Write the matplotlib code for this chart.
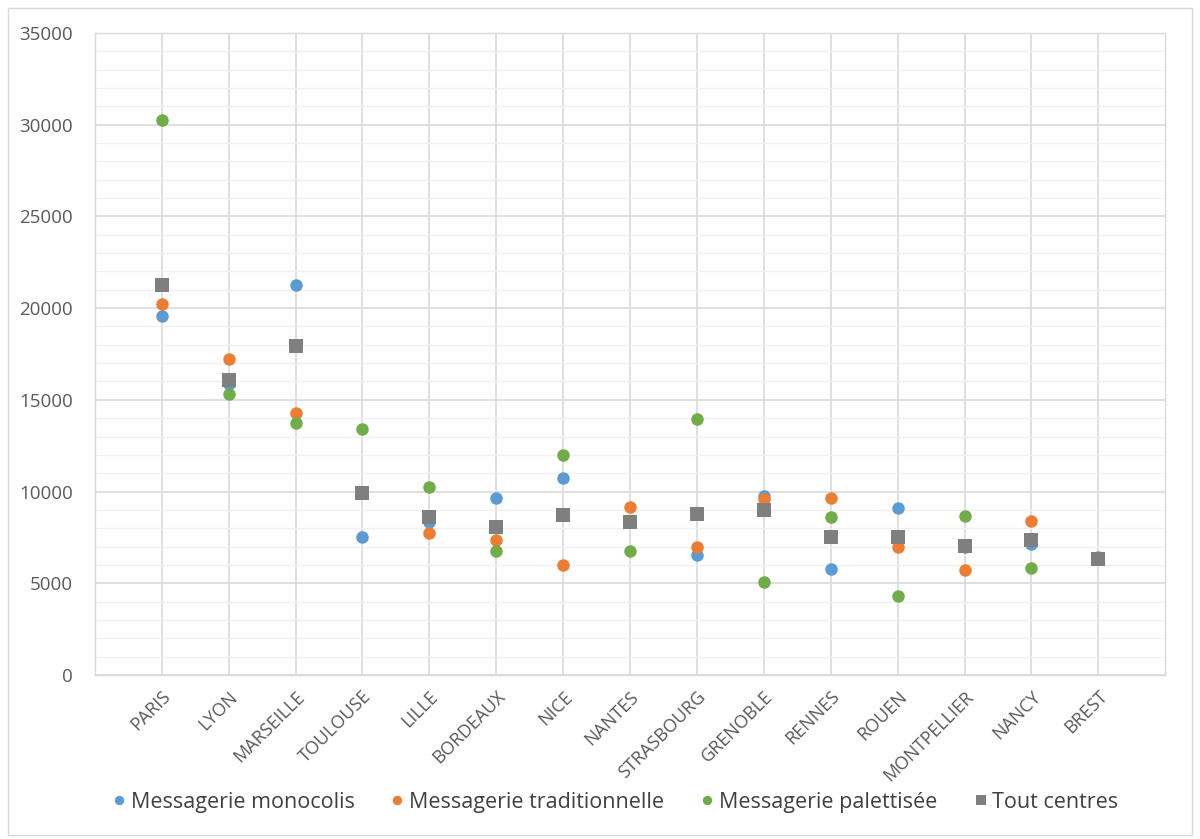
import numpy as np
import matplotlib
matplotlib.use("Agg")
import matplotlib.pyplot as plt
from matplotlib.ticker import MultipleLocator

plt.rcParams["font.family"] = ["Open Sans", "DejaVu Sans"]

villes = ["PARIS", "LYON", "MARSEILLE", "TOULOUSE", "LILLE", "BORDEAUX", "NICE",
          "NANTES", "STRASBOURG", "GRENOBLE", "RENNES", "ROUEN", "MONTPELLIER",
          "NANCY", "BREST"]

monocolis = [19550, 15860, 21250, 7500, 8340, 9670, 10720, 8360, 6520, 9780,
             5760, 9120, 6960, 7120, np.nan]
traditionnelle = [20200, 17200, 14280, np.nan, 7720, 7380, 5980, 9180, 6960, 9600,
                  9670, 7000, 5700, 8410, 6420]
palettisee = [30250, 15320, 13740, 13430, 10230, 6740, 11980, 6740, 13940, 5070,
              8630, 4310, 8690, 5830, np.nan]
tout_centres = [21250, 16080, 17930, 9940, 8630, 8070, 8700, 8340, 8760, 8980,
                7520, 7500, 7050, 7360, 6340]

series = [
    ("Messagerie monocolis", monocolis, "#5b9bd5", "o"),
    ("Messagerie traditionnelle", traditionnelle, "#ed7d31", "o"),
    ("Messagerie palettisée", palettisee, "#70ad47", "o"),
    ("Tout centres", tout_centres, "#7f7f7f", "s"),
]

fig = plt.figure(figsize=(12, 8.39), dpi=100)
fig.patch.set_facecolor("white")
ax = fig.add_axes([0.079, 0.1955, 0.892, 0.7652])

x = np.arange(1, len(villes) + 1)
for label, vals, color, marker in series:
    ms = 10 if marker == "s" else 9
    ax.plot(x, vals, linestyle="none", marker=marker, markersize=ms,
            color=color, markeredgewidth=0, label=label, zorder=3)

# axes
ax.set_xlim(0, len(villes) + 1)
ax.set_ylim(0, 35000)
ax.yaxis.set_major_locator(MultipleLocator(5000))
ax.yaxis.set_minor_locator(MultipleLocator(1000))
ax.set_xticks(x)
ax.set_xticklabels(villes, rotation=45, ha="right", rotation_mode="anchor",
                   fontsize=13, color="#595959")
ax.tick_params(axis="y", labelsize=13.5, colors="#595959", length=0, pad=16)
ax.tick_params(axis="x", length=0, pad=9)
ax.tick_params(which="minor", length=0)

# grille
ax.grid(True, axis="y", which="major", color="#d9d9d9", linewidth=1.2)
ax.grid(True, axis="y", which="minor", color="#f0f0f0", linewidth=1)
ax.grid(True, axis="x", which="major", color="#d9d9d9", linewidth=1.2)
ax.set_axisbelow(True)
for spine in ax.spines.values():
    spine.set_color("#d9d9d9")
    spine.set_linewidth(1)

# légende
leg = fig.legend(loc="lower center", bbox_to_anchor=(0.511, 0.008), ncol=4,
                 frameon=False, fontsize=15.5, handletextpad=0.05,
                 columnspacing=1.5, handlelength=1, markerscale=0.75,
                 labelcolor="#404040")

# cadre du graphique
fig.add_artist(plt.Rectangle((0.007, 0.005), 0.986, 0.985, transform=fig.transFigure,
                             fill=False, edgecolor="#d9d9d9", linewidth=1))

fig.savefig("out.png", dpi=100, facecolor="white")
